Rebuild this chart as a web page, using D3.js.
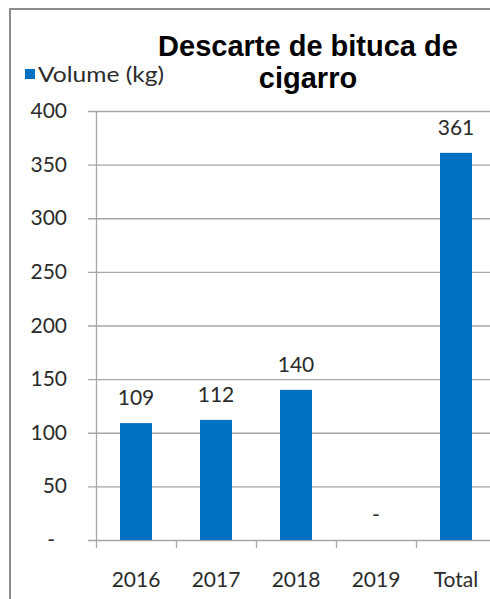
<!DOCTYPE html>
<html>
<head>
<meta charset="utf-8">
<script src="https://cdn.jsdelivr.net/npm/d3@7"></script>
<style>
html,body{margin:0;padding:0;background:#fff;}
svg{display:block;}
</style>
</head>
<body>
<svg id="chart" width="490" height="599"></svg>
<script>
const categories = ["2016", "2017", "2018", "2019", "Total"];
const values = [109, 112, 140, 0, 361];
const dataLabels = ["109", "112", "140", "-", "361"];
const yTicks = [0, 50, 100, 150, 200, 250, 300, 350, 400];
const yTickLabels = ["-", "50", "100", "150", "200", "250", "300", "350", "400"];
const titleLines = ["Descarte de bituca de", "cigarro"];
const seriesName = "Volume (kg)";

const svg = d3.select("#chart");
const font = "Lato, 'Open Sans', sans-serif";
const textColor = "#2b2b2b";
const barColor = "#0070C0";
const gridColor = "#a6a6a6";

// outer frame
svg.append("path")
  .attr("d", "M10,599 V9 H490")
  .attr("fill", "none")
  .attr("stroke", "#8c8c8c")
  .attr("stroke-width", 2);

const x = d3.scaleBand().domain(categories).range([96, 496]).paddingInner(0.6).paddingOuter(0.3);
const y = d3.scaleLinear().domain([0, 400]).range([540, 111]);

// gridlines
svg.append("g").selectAll("line").data(yTicks).join("line")
  .attr("x1", 88).attr("x2", 490)
  .attr("y1", d => y(d) + 0.5).attr("y2", d => y(d) + 0.5)
  .attr("stroke", gridColor).attr("stroke-width", 1.3);

// y axis line
svg.append("line")
  .attr("x1", 96.5).attr("x2", 96.5)
  .attr("y1", y(400)).attr("y2", y(0))
  .attr("stroke", gridColor).attr("stroke-width", 1.3);

// x axis ticks (category boundaries)
const step = x.step();
const bounds = categories.map((c, i) => 96 + i * step);
svg.append("g").selectAll("line").data(bounds).join("line")
  .attr("x1", d => d + 0.5).attr("x2", d => d + 0.5)
  .attr("y1", y(0)).attr("y2", y(0) + 8)
  .attr("stroke", gridColor).attr("stroke-width", 1.3);

// y tick labels
svg.append("g").selectAll("text").data(yTicks).join("text")
  .attr("x", (d, i) => d === 0 ? 55 : 67)
  .attr("y", d => y(d) + 7)
  .attr("text-anchor", "end")
  .attr("font-family", font).attr("font-size", 21).attr("fill", textColor)
  .text((d, i) => yTickLabels[i]);

// bars
svg.append("g").selectAll("rect").data(values).join("rect")
  .attr("x", (d, i) => x(categories[i]))
  .attr("width", x.bandwidth())
  .attr("y", d => y(d))
  .attr("height", d => y(0) - y(d))
  .attr("fill", barColor);

// data labels
svg.append("g").selectAll("text").data(values).join("text")
  .attr("x", (d, i) => x(categories[i]) + x.bandwidth() / 2)
  .attr("y", d => y(d) - 18)
  .attr("text-anchor", "middle")
  .attr("font-family", font).attr("font-size", 21).attr("fill", textColor)
  .text((d, i) => dataLabels[i]);

// x labels
svg.append("g").selectAll("text").data(categories).join("text")
  .attr("x", d => x(d) + x.bandwidth() / 2)
  .attr("y", 587)
  .attr("text-anchor", "middle")
  .attr("font-family", font).attr("font-size", 21).attr("fill", textColor)
  .text(d => d);

// title
svg.append("g").selectAll("text").data(titleLines).join("text")
  .attr("x", 308)
  .attr("y", (d, i) => 56 + i * 32)
  .attr("text-anchor", "middle")
  .attr("font-family", "'Liberation Sans', Arial, sans-serif")
  .attr("font-weight", "bold").attr("font-size", 29).attr("fill", "#000")
  .text(d => d);

// legend
svg.append("rect").attr("x", 25).attr("y", 69).attr("width", 10).attr("height", 10).attr("fill", barColor);
svg.append("text").attr("x", 38).attr("y", 82)
  .attr("font-family", font).attr("font-size", 21).attr("fill", textColor)
  .attr("textLength", 126).attr("lengthAdjust", "spacingAndGlyphs")
  .text(seriesName);
</script>
</body>
</html>
